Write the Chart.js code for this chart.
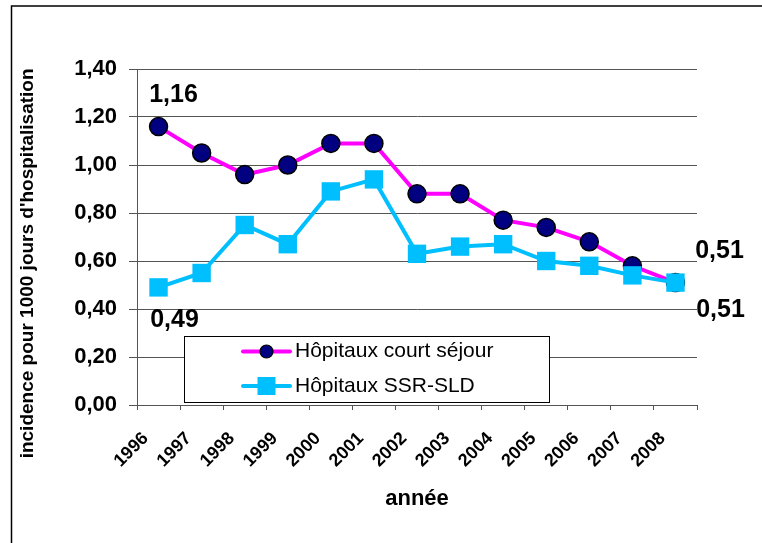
<!DOCTYPE html>
<html>
<head>
<meta charset="utf-8">
<script src="https://cdn.jsdelivr.net/npm/chart.js@4.4.1/dist/chart.umd.min.js"></script>
<style>
  html, body { margin: 0; padding: 0; background: #ffffff; }
  #c { display: block; }
</style>
</head>
<body>
<canvas id="c" width="762" height="543"></canvas>
<script>
const years = ['1996','1997','1998','1999','2000','2001','2002','2003','2004','2005','2006','2007','2008'];
const courtSejour = [1.16, 1.05, 0.96, 1.00, 1.09, 1.09, 0.88, 0.88, 0.77, 0.74, 0.68, 0.58, 0.51];
const ssrSld = [0.49, 0.55, 0.75, 0.67, 0.89, 0.94, 0.63, 0.66, 0.67, 0.60, 0.58, 0.54, 0.51];
const seriesNames = ['Hôpitaux court séjour', 'Hôpitaux SSR-SLD'];
const yTitle = "incidence pour 1000 jours d'hospitalisation";
const xTitle = 'année';

const FONT = "'Liberation Sans', Arial, sans-serif";
const fmt = v => v.toFixed(2).replace('.', ',');

const frame = {
  id: 'frame',
  beforeDraw(chart) {
    const ctx = chart.ctx;
    ctx.save();
    ctx.fillStyle = '#ffffff';
    ctx.fillRect(0, 0, chart.width, chart.height);
    ctx.restore();
  },
  afterDraw(chart) {
    const ctx = chart.ctx;
    ctx.save();
    ctx.strokeStyle = '#000000';
    ctx.lineWidth = 1.5;
    ctx.strokeRect(11.5, 6, 900, 700);
    ctx.restore();
  }
};

// end-point value labels, positioned from the library's own point elements
const endLabels = {
  id: 'endLabels',
  afterDatasetsDraw(chart, args, opts) {
    const ctx = chart.ctx;
    ctx.save();
    ctx.font = 'bold 25px ' + FONT;
    ctx.fillStyle = '#000000';
    ctx.textAlign = 'center';
    ctx.textBaseline = 'middle';
    opts.items.forEach(it => {
      const meta = chart.getDatasetMeta(it.ds);
      const idx = it.last ? meta.data.length - 1 : 0;
      const el = meta.data[idx];
      const v = chart.data.datasets[it.ds].data[idx];
      ctx.fillText(fmt(v), el.x + it.dx, el.y + it.dy);
    });
    ctx.restore();
  }
};

// boxed legend inside the plot area
const boxLegend = {
  id: 'boxLegend',
  afterDraw(chart, args, opts) {
    const ctx = chart.ctx;
    const b = opts.box;
    ctx.save();
    ctx.fillStyle = '#ffffff';
    ctx.fillRect(b.x, b.y, b.w, b.h);
    ctx.strokeStyle = '#000000';
    ctx.lineWidth = 1;
    ctx.strokeRect(b.x + 0.5, b.y + 0.5, b.w, b.h);
    chart.data.datasets.forEach((ds, i) => {
      const y = b.rowY[i];
      ctx.strokeStyle = ds.borderColor;
      ctx.lineWidth = 4;
      ctx.lineCap = 'round';
      ctx.beginPath();
      ctx.moveTo(b.lineX0, y);
      ctx.lineTo(b.lineX1, y);
      ctx.stroke();
      const mx = (b.lineX0 + b.lineX1) / 2;
      if (ds.pointStyle === 'circle') {
        ctx.beginPath();
        ctx.arc(mx, y, 6.5, 0, Math.PI * 2);
        ctx.fillStyle = ds.pointBackgroundColor;
        ctx.fill();
        ctx.lineWidth = 1.2;
        ctx.strokeStyle = ds.pointBorderColor;
        ctx.stroke();
      } else {
        ctx.fillStyle = ds.pointBackgroundColor;
        ctx.fillRect(mx - 9, y - 9, 18, 18);
      }
      ctx.fillStyle = '#000000';
      ctx.font = '21px ' + FONT;
      ctx.textAlign = 'left';
      ctx.textBaseline = 'middle';
      ctx.fillText(ds.label, b.textX, y);
    });
    ctx.restore();
  }
};

new Chart(document.getElementById('c'), {
  type: 'line',
  data: {
    labels: years,
    datasets: [
      {
        label: seriesNames[0],
        data: courtSejour,
        order: 1,
        borderColor: '#FF00FF',
        borderWidth: 4,
        pointStyle: 'circle',
        pointRadius: 9,
        pointHoverRadius: 9,
        pointBackgroundColor: '#000080',
        pointBorderColor: '#000000',
        pointBorderWidth: 1.5,
        tension: 0,
        fill: false
      },
      {
        label: seriesNames[1],
        data: ssrSld,
        order: 0,
        borderColor: '#00BFFF',
        borderWidth: 4,
        pointStyle: 'rect',
        pointRadius: 13,
        pointHoverRadius: 13,
        pointBackgroundColor: '#00BFFF',
        pointBorderColor: '#00BFFF',
        pointBorderWidth: 0,
        tension: 0,
        fill: false
      }
    ]
  },
  options: {
    responsive: false,
    animation: false,
    devicePixelRatio: 1,
    layout: { padding: { top: 69, right: 65, left: 0, bottom: 0 } },
    plugins: {
      legend: { display: false },
      tooltip: { enabled: false },
      endLabels: {
        items: [
          { ds: 0, last: false, dx: 15, dy: -31 },
          { ds: 1, last: false, dx: 16, dy: 33 },
          { ds: 0, last: true, dx: 44, dy: -31 },
          { ds: 1, last: true, dx: 45, dy: 28 }
        ]
      },
      boxLegend: {
        box: { x: 184, y: 336, w: 365, h: 66, rowY: [351.5, 386], lineX0: 243, lineX1: 290, textX: 295 }
      }
    },
    scales: {
      x: {
        type: 'category',
        offset: true,
        afterFit: s => { s.height = 138; },
        border: { display: true, color: '#555555', width: 1 },
        grid: { display: true, drawOnChartArea: false, drawTicks: true, tickLength: 5, color: '#555555', offset: true },
        ticks: {
          autoSkip: false,
          minRotation: 45,
          maxRotation: 45,
          padding: 18,
          labelOffset: -13,
          color: '#000000',
          font: { family: FONT, size: 18, weight: 'bold' }
        },
        title: {
          display: true,
          text: xTitle,
          color: '#000000',
          font: { family: FONT, size: 22, weight: 'bold' },
          padding: { top: 0, bottom: 31 }
        }
      },
      y: {
        min: 0,
        max: 1.4,
        afterFit: s => { s.width = 137; },
        border: { display: true, color: '#555555', width: 1 },
        grid: { color: '#555555', lineWidth: 1, tickLength: 8, drawTicks: true },
        ticks: {
          stepSize: 0.2,
          padding: 12,
          color: '#000000',
          font: { family: FONT, size: 22, weight: 'bold' },
          callback: v => fmt(v)
        },
        title: {
          display: true,
          text: yTitle + '          ',
          color: '#000000',
          font: { family: FONT, size: 19, weight: 'bold' },
          padding: { top: 16, bottom: 0 }
        }
      }
    }
  },
  plugins: [frame, endLabels, boxLegend]
});
</script>
</body>
</html>
